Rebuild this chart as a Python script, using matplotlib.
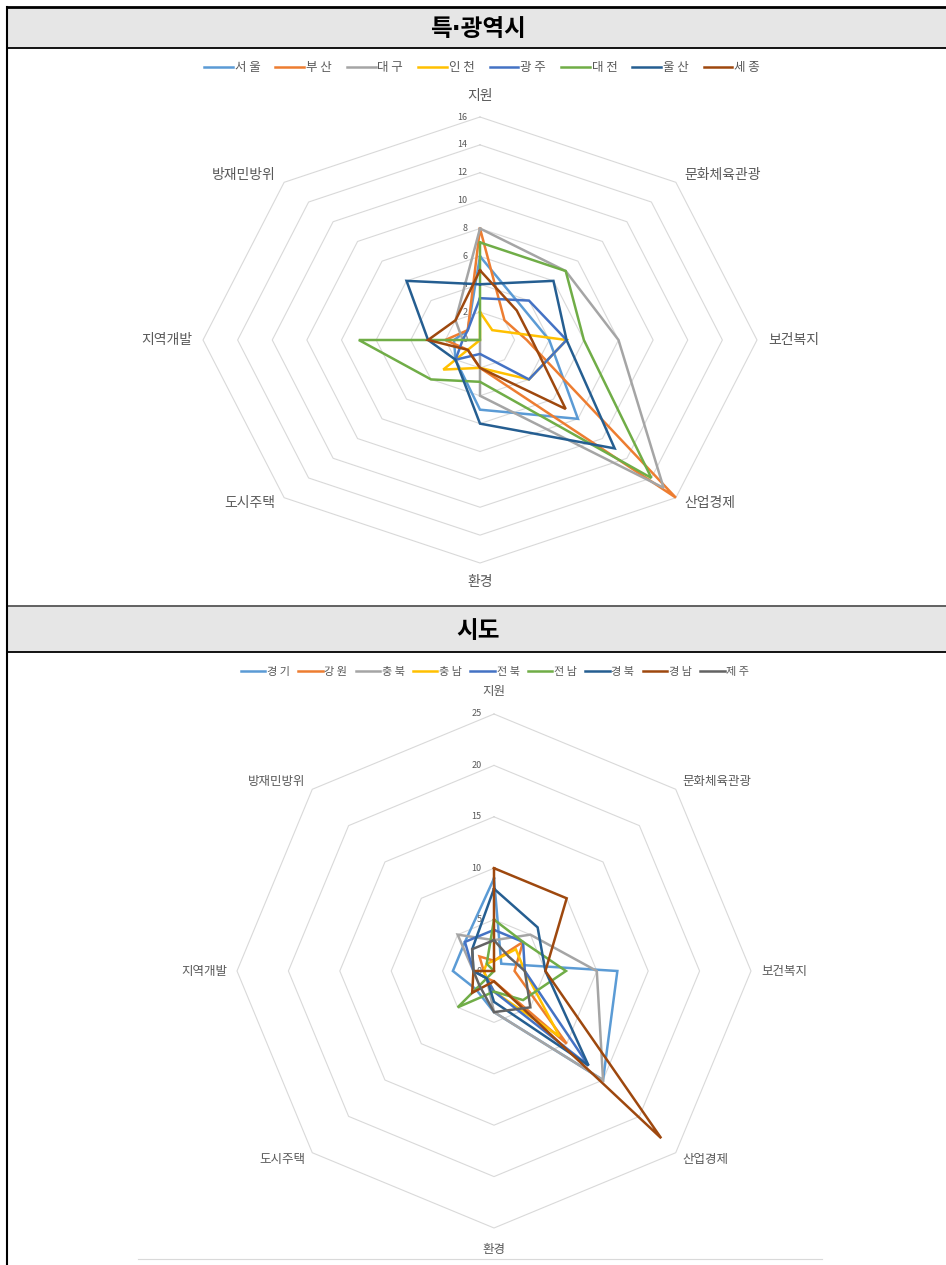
import numpy as np
import matplotlib
matplotlib.use("Agg")
import matplotlib.pyplot as plt
from matplotlib.patches import Rectangle
from matplotlib.lines import Line2D

plt.rcParams['font.family'] = ['Noto Sans CJK KR', 'DejaVu Sans']

categories = ['지원', '문화체육관광', '보건복지', '산업경제', '환경', '도시주택', '지역개발', '방재민방위']

# 특·광역시
metro_names = ['서 울', '부 산', '대 구', '인 천', '광 주', '대 전', '울 산', '세 종']
seoul = [6, 3.4, 4, 8, 5, 2, 1.5, 1]
busan = [8, 2, 2.7, 16, 2, 1, 2, 1]
daegu = [8, 7, 8, 15, 4, 0, 1, 2]
incheon = [2, 1, 5, 4, 2, 3, 0, 0]
gwangju = [3, 4, 5, 4, 1, 2, 1, 1]
daejeon = [7, 7, 6, 14, 3, 4, 7, 0]
ulsan = [4, 6, 5, 11, 6, 2, 3, 6]
sejong = [5, 3, 3, 7, 2, 1, 3, 2]
metro_ticks = [0, 2, 4, 6, 8, 10, 12, 14, 16]

# 시도
prov_names = ['경 기', '강 원', '충 북', '충 남', '전 북', '전 남', '경 북', '경 남', '제 주']
gyeonggi = [9, 1, 12, 15, 4, 2.5, 4, 4]
gangwon = [1, 4, 2, 10, 1, 1, 1, 2]
chungbuk = [3, 5, 10, 15, 4, 1, 2, 5]
chungnam = [1, 3, 3, 9, 2, 1, 1, 1]
jeonbuk = [4, 4, 3, 13, 2, 1, 2, 4]
jeonnam = [5, 4, 7, 4, 2, 5, 0, 1]
gyeongbuk = [8, 6, 5, 13, 3, 1, 2, 3]
gyeongnam = [10, 10, 5, 23, 1, 3, 2, 0]
jeju = [3, 2, 3, 5, 4, 2, 2, 3]
prov_ticks = [0, 5, 10, 15, 20, 25]

metro_series = [seoul, busan, daegu, incheon, gwangju, daejeon, ulsan, sejong]
prov_series = [gyeonggi, gangwon, chungbuk, chungnam, jeonbuk, jeonnam, gyeongbuk, gyeongnam, jeju]

palette = ['#5B9BD5', '#ED7D31', '#A5A5A5', '#FFC000', '#4472C4',
           '#70AD47', '#255E91', '#9E480E', '#636363']

W, H = 946, 1265
fig = plt.figure(figsize=(W / 100, H / 100), dpi=100)
fig.patch.set_facecolor('white')

GRID = '#D9D9D9'
TXT = '#595959'
theta = np.arange(len(categories)) * 2 * np.pi / len(categories)

# label offsets in points from each outer vertex (dx, dy, ha)
PT = 0.72


def label_offsets(top_gap, side_gap, diag_dx, diag_dy_up, diag_dy_down, bottom_gap):
    return [
        (0, top_gap, 'center'),
        (diag_dx, diag_dy_up, 'left'),
        (side_gap, 0, 'left'),
        (diag_dx, -diag_dy_down, 'left'),
        (0, -bottom_gap, 'center'),
        (-diag_dx, -diag_dy_down, 'right'),
        (-side_gap, 0, 'right'),
        (-diag_dx, diag_dy_up, 'right'),
    ]


def px_axes(cx, cy, rx, ry):
    return fig.add_axes([(cx - rx) / W, 1 - (cy + ry) / H, 2 * rx / W, 2 * ry / H])


def radar(ax, series, names, ticks, colors, cat_size, tick_size, offsets):
    rmax = ticks[-1]
    ax.set_xlim(-rmax, rmax)
    ax.set_ylim(-rmax, rmax)
    ax.set_axis_off()
    ring = np.append(theta, theta[0])
    for t in ticks[1:]:
        ax.plot(t * np.sin(ring), t * np.cos(ring), color=GRID, lw=0.8,
                clip_on=False, zorder=1)
    for t in ticks:
        ax.annotate(str(t), (0, t), xytext=(-9, 0), textcoords='offset points',
                    ha='right', va='center', fontsize=tick_size, color=TXT, zorder=2)
    lines = []
    for vals, name, col in zip(series, names, colors):
        v = np.append(vals, vals[0])
        ln, = ax.plot(v * np.sin(ring), v * np.cos(ring), color=col, lw=1.8,
                      clip_on=False, solid_joinstyle='miter', zorder=3, label=name)
        lines.append(ln)
    for k, cat in enumerate(categories):
        s, c = np.sin(theta[k]), np.cos(theta[k])
        dx, dy, ha = offsets[k]
        ax.annotate(cat, (rmax * s, rmax * c), xytext=(dx * PT, dy * PT),
                    textcoords='offset points', ha=ha, va='center',
                    fontsize=cat_size, color=TXT, annotation_clip=False)
    return lines


# frame, title bands
def hline(y, x0=7, x1=W, color='black', lw=1.3):
    fig.add_artist(Line2D([x0 / W, x1 / W], [1 - y / H, 1 - y / H], color=color, lw=lw))


fig.add_artist(Rectangle((8 / W, 1 - 48 / H), 1, 40 / H, facecolor='#E6E6E6',
                         edgecolor='none', transform=fig.transFigure))
fig.add_artist(Rectangle((8 / W, 1 - 652 / H), 1, 46 / H, facecolor='#E6E6E6',
                         edgecolor='none', transform=fig.transFigure))
hline(7, lw=2)
hline(48)
hline(606, color='#555555', lw=1.3)
hline(652)
fig.add_artist(Line2D([7 / W, 7 / W], [0, 1 - 7 / H], color='black', lw=1.5))

title_fonts = ['DejaVu Sans', 'Noto Sans CJK KR']
fig.text(478 / W, 1 - 29 / H, '특·광역시', ha='center', va='center',
         fontsize=17, fontweight='bold', color='black', family=title_fonts)
fig.text(478 / W, 1 - 631 / H, '시도', ha='center', va='center',
         fontsize=17, fontweight='bold', color='black', family=title_fonts)

# upper chart: stretched horizontally
ax1 = px_axes(480, 340, 277, 223)
l1 = radar(ax1, metro_series, metro_names, metro_ticks, palette[:8],
           cat_size=10, tick_size=6.5,
           offsets=label_offsets(21, 11, 9, 7, 5, 19))
fig.legend(handles=l1, loc='center', bbox_to_anchor=(482 / W, 1 - 68 / H),
           ncol=8, frameon=False, fontsize=9, handlelength=2.3,
           handletextpad=0.15, columnspacing=1.2, labelcolor=TXT)

# lower chart
ax2 = px_axes(494, 971, 257, 257)
l2 = radar(ax2, prov_series, prov_names, prov_ticks, palette,
           cat_size=9, tick_size=6.5,
           offsets=label_offsets(23, 10, 7, 8, 7, 21))
fig.legend(handles=l2, loc='center', bbox_to_anchor=(495 / W, 1 - 672 / H),
           ncol=9, frameon=False, fontsize=8, handlelength=2.2,
           handletextpad=0.15, columnspacing=0.75, labelcolor=TXT)

fig.add_artist(Line2D([138 / W, 822 / W], [1 - 1259 / H, 1 - 1259 / H],
                      color=GRID, lw=0.8))

fig.savefig('out.png', dpi=100, facecolor='white')
